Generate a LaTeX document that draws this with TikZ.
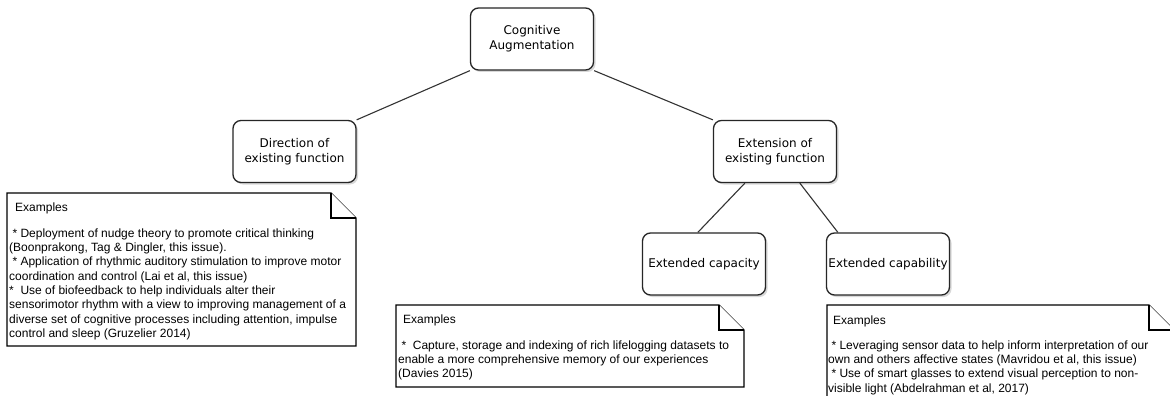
\documentclass[tikz,border=0pt]{standalone}
\usepackage{fontspec}
\setmainfont{Liberation Sans}
\newfontfamily\boxfont{DejaVu Sans}
\usetikzlibrary{shadows}
\tikzset{
  cbox/.style={draw=black!85, line width=1.3pt, rounded corners=8pt, fill=white,
    drop shadow={opacity=0.3, shadow xshift=2pt, shadow yshift=-2pt},
    minimum width=123pt, minimum height=62pt, inner sep=0pt, align=center,
    font=\boxfont\fontsize{12}{15}\selectfont},
  link/.style={draw=black!80, line width=1.1pt},
  notebox/.style={draw=black, line width=1.2pt, fill=white},
  notetitle/.style={anchor=base west, inner sep=0pt, font=\fontsize{12}{14.3}\selectfont},
  notebody/.style={anchor=north west, inner sep=0pt, align=left, font=\fontsize{12}{14.3}\selectfont}
}
\begin{document}
\begin{tikzpicture}[x=1pt,y=-1pt]
\useasboundingbox (0,0) rectangle (1170,396);
\clip (0,0) rectangle (1170,396);
\fill[white] (0,0) rectangle (1170,396);

% boxes
\node[cbox] (ca)  at (532,39)    {Cognitive\\Augmentation};
\node[cbox] (dir) at (294.5,151.5) {Direction of\\existing function};
\node[cbox] (ext) at (775,151.5) {Extension of\\existing function};
\node[cbox] (cap) at (704,264)   {Extended capacity};
\node[cbox] (cab) at (888,264)   {Extended capability};

% connectors
\draw[link] (ca.south west) -- (dir.north east);
\draw[link] (ca.south east) -- (ext.north west);
\draw[link] ([xshift=32pt]ext.south west) -- ([xshift=56pt]cap.north west);
\draw[link] ([xshift=87pt]ext.south west) -- ([xshift=12pt]cab.north west);

% note 1
\draw[notebox] (7,193) -- (331,193) -- (356,218) -- (356,346) -- (7,346) -- cycle;
\draw[notebox] (331,193) -- (331,218) -- (356,218);
\node[notetitle] (n1t) at (15,211) {Examples};
\node[notebody] (n1b) at (9,228.5) {\ * Deployment of nudge theory to promote critical thinking\\
(Boonprakong, Tag \& Dingler, this issue).\\
\ * Application of rhythmic auditory stimulation to improve motor\\
coordination and control (Lai et al, this issue)\\
*\ \ Use of biofeedback to help individuals alter their\\
sensorimotor rhythm with a view to improving management of a\\
diverse set of cognitive processes including attention, impulse\\
control and sleep (Gruzelier 2014)};

% note 2
\draw[notebox] (396,305) -- (719,305) -- (744,330) -- (744,387) -- (396,387) -- cycle;
\draw[notebox] (719,305) -- (719,330) -- (744,330);
\node[notetitle] (n2t) at (403,323) {Examples};
\node[notebody] (n2b) at (398,340.5) {\ *\ \ Capture, storage and indexing of rich lifelogging datasets to\\
enable a more comprehensive memory of our experiences\\
(Davies 2015)};

% note 3
\draw[notebox] (827,305) -- (1149,305) -- (1174,330) -- (1174,420) -- (827,420) -- cycle;
\draw[notebox] (1149,305) -- (1149,330) -- (1174,330);
\node[notetitle] (n3t) at (833,324) {Examples};
\node[notebody] (n3b) at (828,340.5) {\ * Leveraging sensor data to help inform interpretation of our\\
own and others affective states (Mavridou et al, this issue)\\
\ * Use of smart glasses to extend visual perception to non-\\
visible light (Abdelrahman et al, 2017)};
\end{tikzpicture}
\end{document}
